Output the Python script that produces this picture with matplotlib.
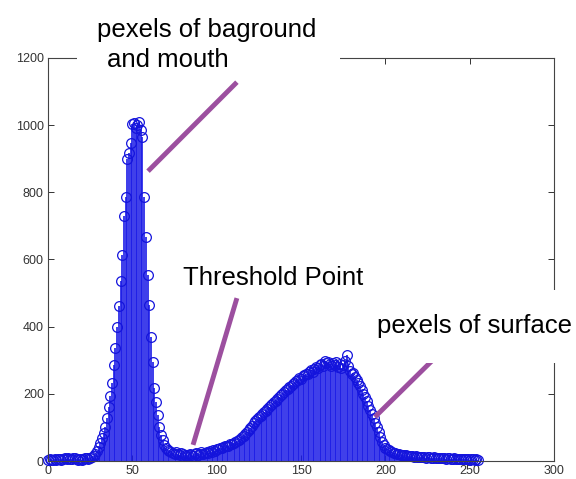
import numpy as np
import matplotlib
matplotlib.use("Agg")
import matplotlib.pyplot as plt
from matplotlib.patches import Rectangle

# histogram counts, gray level 0..255
h_low = [3, 5, 2, 4, 6, 3, 5, 7, 4, 6, 8, 5, 9, 7, 6, 10, 8, 5, 4, 6, 3, 5, 8, 10, 7]
h_peak = [9, 12, 16, 22, 30, 42, 55, 68, 84, 102, 128, 160, 195, 232, 285, 335, 400, 462,
          535, 612, 730, 786, 898, 918, 948, 1002, 1006, 992, 1000, 1008, 985, 964, 785,
          668, 555, 466, 368, 296, 217, 176, 137, 101, 78, 62, 48, 40, 34]
h_valley = [30, 28, 25, 22, 26, 20, 18, 24, 21, 17, 15, 19, 22, 18, 16, 20, 24, 19, 22,
            26, 21, 25, 28, 24, 30, 27, 32, 29, 35]
h_rise = [36, 40, 38, 42, 44, 46, 45, 50, 52, 55, 58, 60, 64, 66, 70, 75, 80, 86, 92, 98,
          105, 112, 118, 124, 130]
h_hump = [135, 140, 146, 150, 155, 160, 166, 170, 176, 180, 186, 190, 196, 200, 205, 210,
          214, 220, 224, 228, 233, 238, 242, 247, 244, 252, 256, 260, 258, 265, 270, 266,
          275, 280, 278, 286, 290, 284, 298, 292]
h_top = [294, 288, 282, 292, 286, 294, 280, 290, 276, 286, 298, 315, 282, 268, 258, 262,
         250, 240, 232, 222]
h_fall = [211, 200, 190, 178, 165, 152, 140, 128, 114, 101, 86, 71, 58, 48, 40]
h_tail = [36, 33, 30, 28, 25, 23, 22, 20, 19, 18, 17, 18, 16, 15, 16, 14, 13, 15, 12, 13,
          12, 11, 13, 10, 12, 11, 10, 9, 11, 10, 9, 8, 10, 9, 8, 7, 9, 8, 7, 6,
          8, 7, 6, 7, 5, 6, 7, 5, 6, 4, 5, 6, 4, 5, 3]

counts = h_low + h_peak + h_valley + h_rise + h_hump + h_top + h_fall + h_tail
levels = np.arange(len(counts))

# pointer lines (data coords): (x0, y0, x1, y1)
ptr_bg = (112, 1128, 59.3, 863)
ptr_th = (112, 485, 86, 48)
ptr_sf = (229.4, 307, 193.8, 131)

purple = '#9c4f9f'
W, H = 576, 479

plt.rcParams['font.family'] = ['Liberation Sans', 'DejaVu Sans']

fig = plt.figure(figsize=(W / 100, H / 100), dpi=100)
ax = fig.add_axes([48 / W, 18 / H, (554 - 48) / W, (461 - 58) / H])

ml, sl, bl = ax.stem(levels, counts, linefmt='b-', markerfmt='o', basefmt=' ')
sl.set_linewidth(1.2)
sl.set_color('#1a1ae6')
ml.set_markerfacecolor('none')
ml.set_markeredgecolor('#1414dc')
ml.set_markersize(7)
ml.set_markeredgewidth(0.9)
ml.set_clip_on(False)

ax.set_xlim(0, 300)
ax.set_ylim(0, 1200)
ax.set_xticks(range(0, 301, 50))
ax.set_yticks(range(0, 1201, 200))
ax.tick_params(direction='in', top=True, right=True, length=4, width=0.7,
               labelsize=9, pad=3, colors='#333333')
for s in ax.spines.values():
    s.set_linewidth(0.8)
    s.set_color('#444444')

for x0, y0, x1, y1 in (ptr_bg, ptr_th, ptr_sf):
    ax.plot([x0, x1], [y0, y1], color=purple, lw=3.5, solid_capstyle='butt', clip_on=False)

# white patches behind the labels (they hide parts of the frame)
def cover(x0, y0, x1, y1):
    fig.patches.append(Rectangle((x0 / W, 1 - y1 / H), (x1 - x0) / W, (y1 - y0) / H,
                                 transform=fig.transFigure, facecolor='white',
                                 edgecolor='none', zorder=2))

cover(77, 0, 340, 78)
cover(370, 290, 576, 363)

fs = 18.5
fig.text(97 / W, 1 - 37 / H, 'pexels of baground', fontsize=fs, va='baseline', zorder=3)
fig.text(107 / W, 1 - 67 / H, 'and mouth', fontsize=fs, va='baseline', zorder=3)
fig.text(183 / W, 1 - 285 / H, 'Threshold Point', fontsize=fs, va='baseline', zorder=3)
fig.text(377 / W, 1 - 333 / H, 'pexels of surface', fontsize=fs, va='baseline', zorder=3)

fig.savefig('out.png', dpi=100)
